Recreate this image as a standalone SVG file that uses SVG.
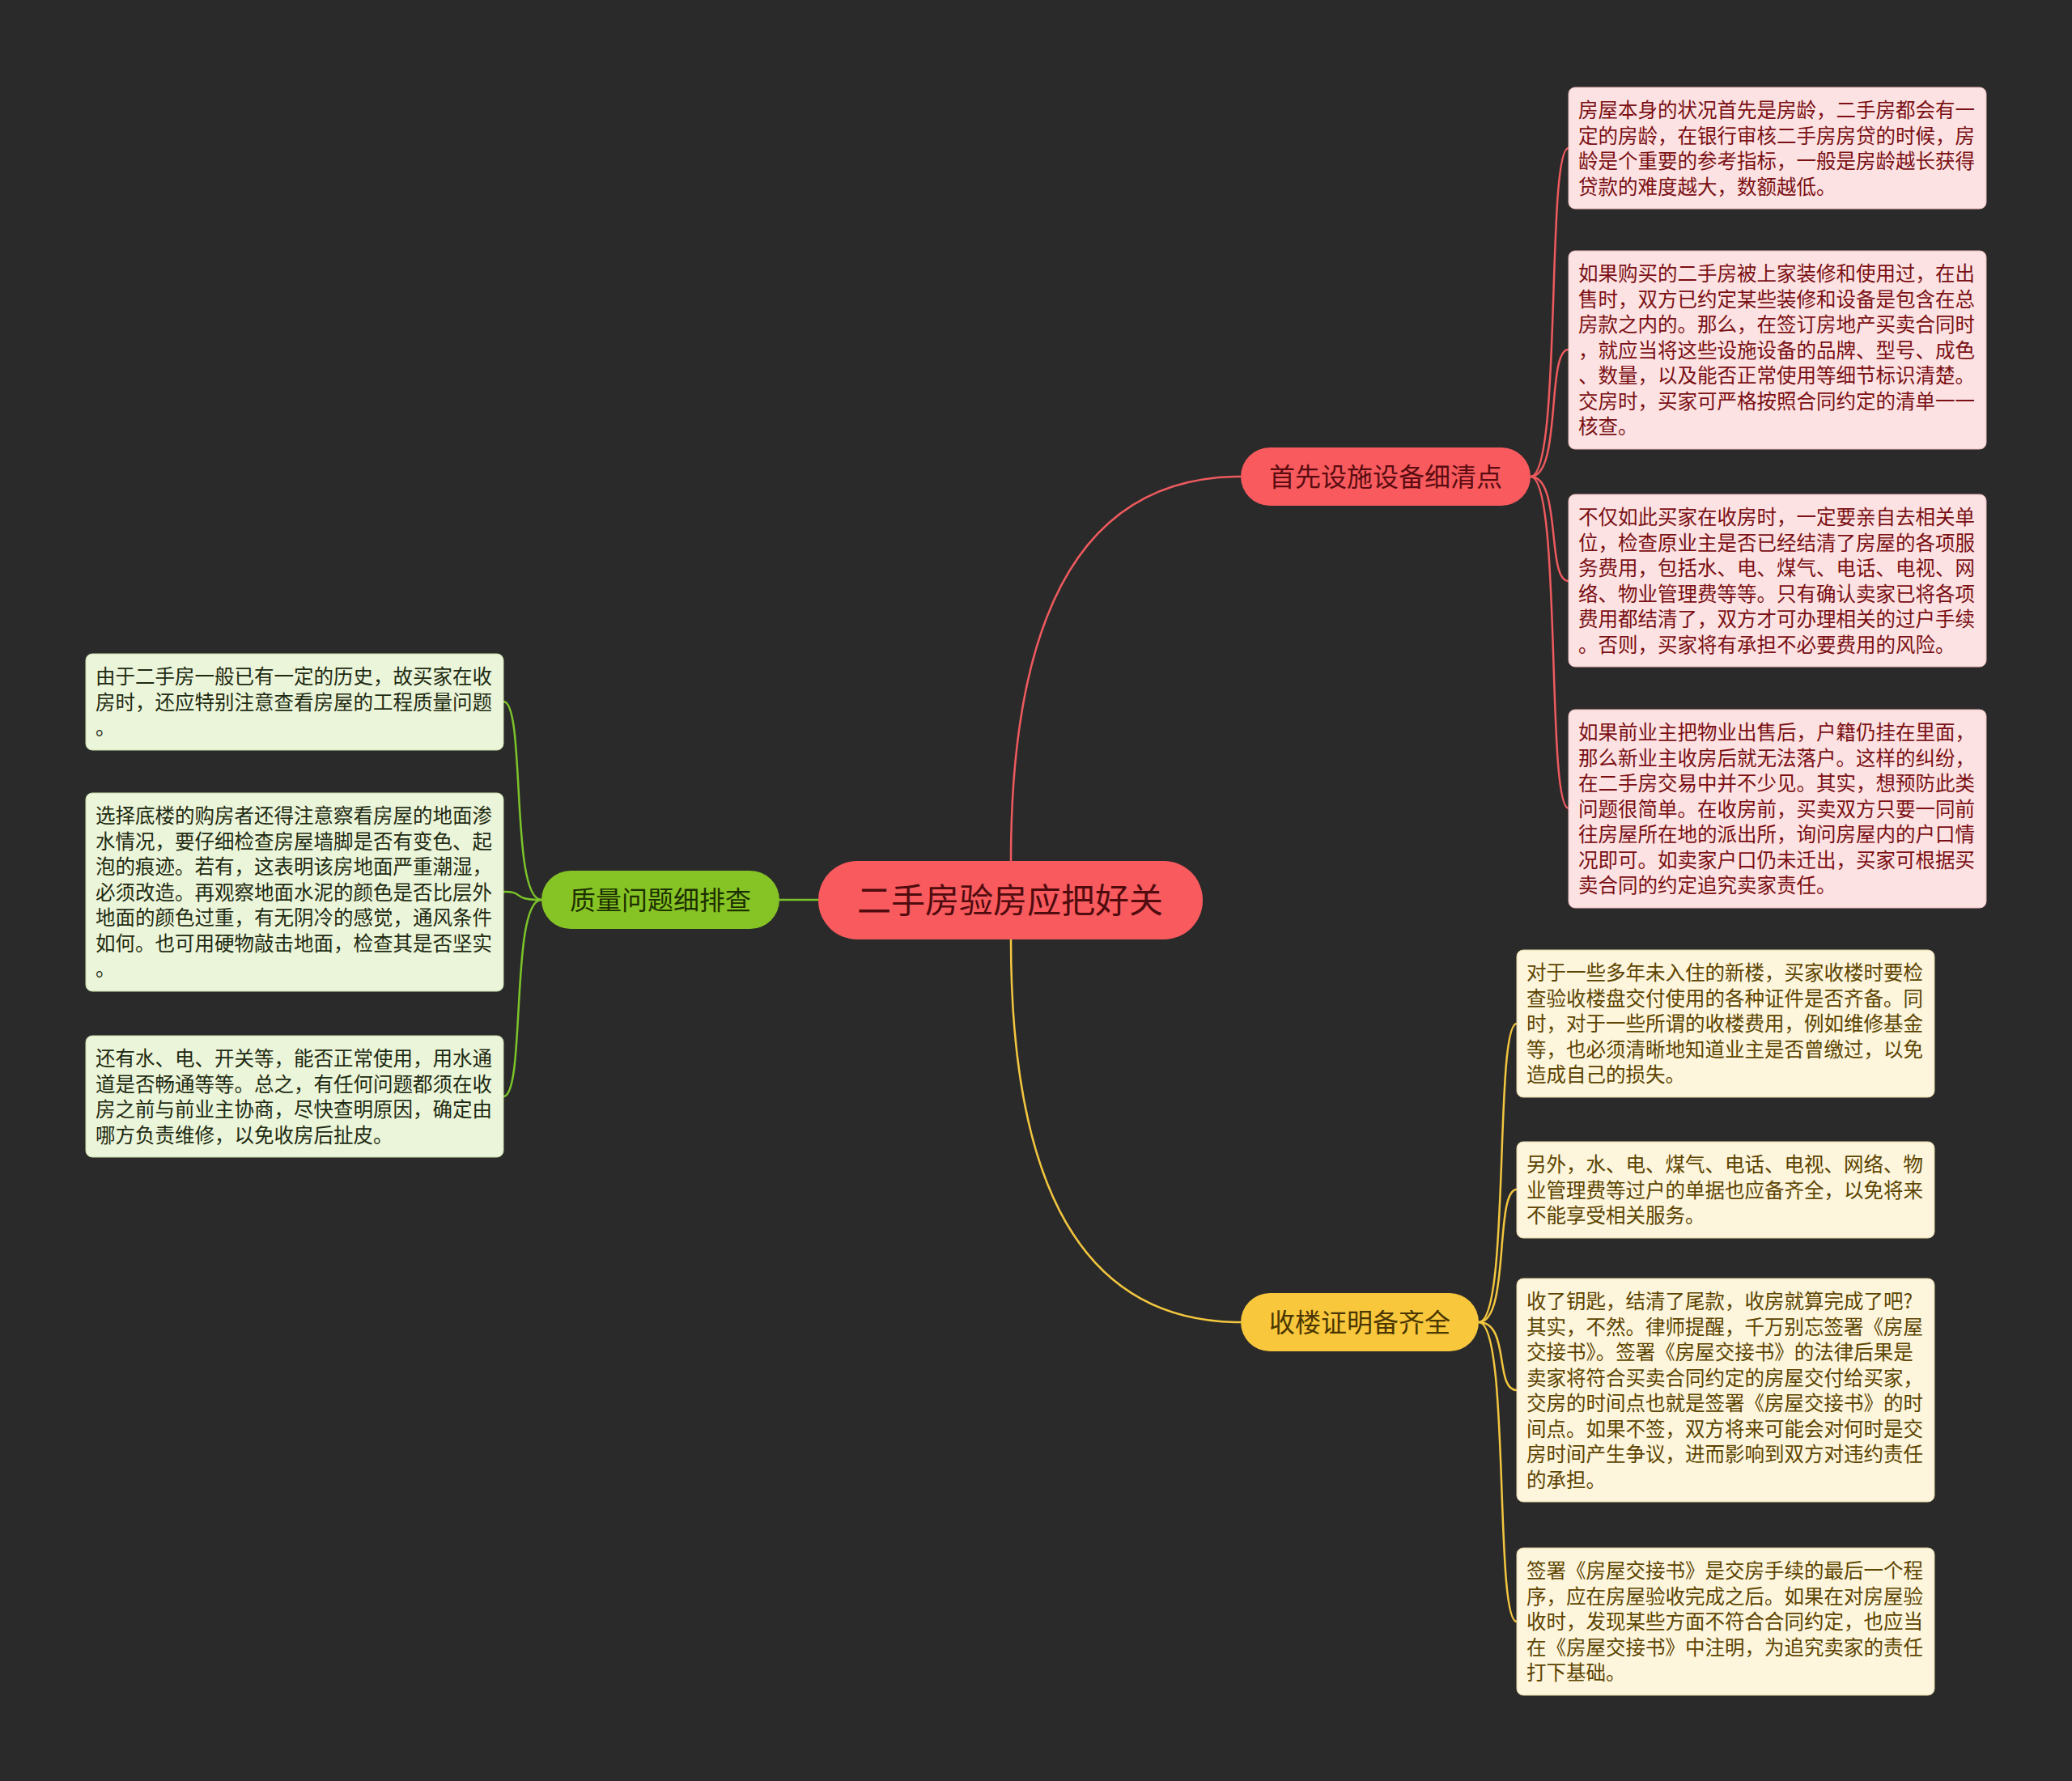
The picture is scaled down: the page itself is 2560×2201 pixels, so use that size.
<svg xmlns="http://www.w3.org/2000/svg" width="2560" height="2201" viewBox="0 0 2560 2201">
<style>
text{font-family:"Noto Sans CJK SC","Noto Sans",sans-serif}
.leaf{font-size:24.5px}
.lr rect{fill:#fde2e3;stroke:#e9b9ba;stroke-width:1}
.lr text{fill:#7a1014}
.ly rect{fill:#fdf5dc;stroke:#e3d3a4;stroke-width:1}
.ly text{fill:#5c4400}
.lg rect{fill:#ebf5d9;stroke:#c8dcaa;stroke-width:1}
.lg text{fill:#1e2a12}
.br text{font-size:32px;text-anchor:middle}
.c{fill:none;stroke-width:2.5}
.cr{stroke:#ee5a5e}
.cy{stroke:#f3c63f}
.cg{stroke:#7cc42a}
</style>
<rect width="2560" height="2201" fill="#2a2a2a"/>
<g id="connectors">
<path class="c cr" stroke-width="3" d="M1249,1064 Q1249,589 1533,589"/>
<path class="c cy" stroke-width="3" d="M1249,1161 Q1249,1634 1533,1634"/>
<path class="c cg" stroke-width="3" d="M1011,1112 L963,1112"/>
<path class="c cr" d="M1891,589 C1930,589 1910,183 1938,183"/>
<path class="c cr" d="M1891,589 C1930,589 1910,432 1938,432"/>
<path class="c cr" d="M1891,589 C1930,589 1910,718 1938,718"/>
<path class="c cr" d="M1891,589 C1930,589 1910,999 1938,999"/>
<path class="c cy" d="M1827,1634 C1866,1634 1846,1265 1874,1265"/>
<path class="c cy" d="M1827,1634 C1866,1634 1846,1470 1874,1470"/>
<path class="c cy" d="M1827,1634 C1866,1634 1846,1718 1874,1718"/>
<path class="c cy" d="M1827,1634 C1866,1634 1846,2004 1874,2004"/>
<path class="c cg" d="M669,1112 C630,1112 650,867 622,867"/>
<path class="c cg" d="M669,1112 C630,1112 650,1102 622,1102"/>
<path class="c cg" d="M669,1112 C630,1112 650,1355 622,1355"/>
</g>
<g id="root">
<rect x="1011" y="1064" width="475" height="97" rx="48" fill="#f85a5e"/>
<text x="1248" y="1128" font-size="42" text-anchor="middle" fill="#4f0b0e">二手房验房应把好关</text>
</g>
<g id="b1" class="br">
<rect x="1533" y="553" width="358" height="72" rx="36" fill="#f85a5e"/>
<text x="1712" y="601" fill="#5a0c10">首先设施设备细清点</text>
</g>
<g id="b2" class="br">
<rect x="669" y="1076" width="294" height="72" rx="36" fill="#85c424"/>
<text x="816" y="1124" fill="#1d3000">质量问题细排查</text>
</g>
<g id="b3" class="br">
<rect x="1533" y="1598" width="294" height="72" rx="36" fill="#f8c73c"/>
<text x="1680" y="1646" fill="#4a3600">收楼证明备齐全</text>
</g>
<g id="l1" class="leaf lr">
<rect x="1938" y="108" width="516" height="150" rx="8"/>
<text x="1950" y="145">房屋本身的状况首先是房龄，二手房都会有一</text>
<text x="1950" y="176.5">定的房龄，在银行审核二手房房贷的时候，房</text>
<text x="1950" y="208">龄是个重要的参考指标，一般是房龄越长获得</text>
<text x="1950" y="239.5">贷款的难度越大，数额越低。</text>
</g>
<g id="l2" class="leaf lr">
<rect x="1938" y="310" width="516" height="245" rx="8"/>
<text x="1950" y="347">如果购买的二手房被上家装修和使用过，在出</text>
<text x="1950" y="378.5">售时，双方已约定某些装修和设备是包含在总</text>
<text x="1950" y="410">房款之内的。那么，在签订房地产买卖合同时</text>
<text x="1950" y="441.5">，就应当将这些设施设备的品牌、型号、成色</text>
<text x="1950" y="473">、数量，以及能否正常使用等细节标识清楚。</text>
<text x="1950" y="504.5">交房时，买家可严格按照合同约定的清单一一</text>
<text x="1950" y="536">核查。</text>
</g>
<g id="l3" class="leaf lr">
<rect x="1938" y="611" width="516" height="213" rx="8"/>
<text x="1950" y="648">不仅如此买家在收房时，一定要亲自去相关单</text>
<text x="1950" y="679.5">位，检查原业主是否已经结清了房屋的各项服</text>
<text x="1950" y="711">务费用，包括水、电、煤气、电话、电视、网</text>
<text x="1950" y="742.5">络、物业管理费等等。只有确认卖家已将各项</text>
<text x="1950" y="774">费用都结清了，双方才可办理相关的过户手续</text>
<text x="1950" y="805.5">。否则，买家将有承担不必要费用的风险。</text>
</g>
<g id="l4" class="leaf lr">
<rect x="1938" y="877" width="516" height="245" rx="8"/>
<text x="1950" y="914">如果前业主把物业出售后，户籍仍挂在里面，</text>
<text x="1950" y="945.5">那么新业主收房后就无法落户。这样的纠纷，</text>
<text x="1950" y="977">在二手房交易中并不少见。其实，想预防此类</text>
<text x="1950" y="1008.5">问题很简单。在收房前，买卖双方只要一同前</text>
<text x="1950" y="1040">往房屋所在地的派出所，询问房屋内的户口情</text>
<text x="1950" y="1071.5">况即可。如卖家户口仍未迁出，买家可根据买</text>
<text x="1950" y="1103">卖合同的约定追究卖家责任。</text>
</g>
<g id="y1" class="leaf ly">
<rect x="1874" y="1174" width="516" height="182" rx="8"/>
<text x="1886" y="1211">对于一些多年未入住的新楼，买家收楼时要检</text>
<text x="1886" y="1242.5">查验收楼盘交付使用的各种证件是否齐备。同</text>
<text x="1886" y="1274">时，对于一些所谓的收楼费用，例如维修基金</text>
<text x="1886" y="1305.5">等，也必须清晰地知道业主是否曾缴过，以免</text>
<text x="1886" y="1337">造成自己的损失。</text>
</g>
<g id="y2" class="leaf ly">
<rect x="1874" y="1411" width="516" height="119" rx="8"/>
<text x="1886" y="1448">另外，水、电、煤气、电话、电视、网络、物</text>
<text x="1886" y="1479.5">业管理费等过户的单据也应备齐全，以免将来</text>
<text x="1886" y="1511">不能享受相关服务。</text>
</g>
<g id="y3" class="leaf ly">
<rect x="1874" y="1580" width="516" height="276" rx="8"/>
<text x="1886" y="1617">收了钥匙，结清了尾款，收房就算完成了吧?</text>
<text x="1886" y="1648.5">其实，不然。律师提醒，千万别忘签署《房屋</text>
<text x="1886" y="1680">交接书》。签署《房屋交接书》的法律后果是</text>
<text x="1886" y="1711.5">卖家将符合买卖合同约定的房屋交付给买家，</text>
<text x="1886" y="1743">交房的时间点也就是签署《房屋交接书》的时</text>
<text x="1886" y="1774.5">间点。如果不签，双方将来可能会对何时是交</text>
<text x="1886" y="1806">房时间产生争议，进而影响到双方对违约责任</text>
<text x="1886" y="1837.5">的承担。</text>
</g>
<g id="y4" class="leaf ly">
<rect x="1874" y="1913" width="516" height="182" rx="8"/>
<text x="1886" y="1950">签署《房屋交接书》是交房手续的最后一个程</text>
<text x="1886" y="1981.5">序，应在房屋验收完成之后。如果在对房屋验</text>
<text x="1886" y="2013">收时，发现某些方面不符合合同约定，也应当</text>
<text x="1886" y="2044.5">在《房屋交接书》中注明，为追究卖家的责任</text>
<text x="1886" y="2076">打下基础。</text>
</g>
<g id="g1" class="leaf lg">
<rect x="106" y="808" width="516" height="119" rx="8"/>
<text x="118" y="845">由于二手房一般已有一定的历史，故买家在收</text>
<text x="118" y="876.5">房时，还应特别注意查看房屋的工程质量问题</text>
<text x="118" y="908">。</text>
</g>
<g id="g2" class="leaf lg">
<rect x="106" y="980" width="516" height="245" rx="8"/>
<text x="118" y="1017">选择底楼的购房者还得注意察看房屋的地面渗</text>
<text x="118" y="1048.5">水情况，要仔细检查房屋墙脚是否有变色、起</text>
<text x="118" y="1080">泡的痕迹。若有，这表明该房地面严重潮湿，</text>
<text x="118" y="1111.5">必须改造。再观察地面水泥的颜色是否比层外</text>
<text x="118" y="1143">地面的颜色过重，有无阴冷的感觉，通风条件</text>
<text x="118" y="1174.5">如何。也可用硬物敲击地面，检查其是否坚实</text>
<text x="118" y="1206">。</text>
</g>
<g id="g3" class="leaf lg">
<rect x="106" y="1280" width="516" height="150" rx="8"/>
<text x="118" y="1317">还有水、电、开关等，能否正常使用，用水通</text>
<text x="118" y="1348.5">道是否畅通等等。总之，有任何问题都须在收</text>
<text x="118" y="1380">房之前与前业主协商，尽快查明原因，确定由</text>
<text x="118" y="1411.5">哪方负责维修，以免收房后扯皮。</text>
</g>
</svg>
